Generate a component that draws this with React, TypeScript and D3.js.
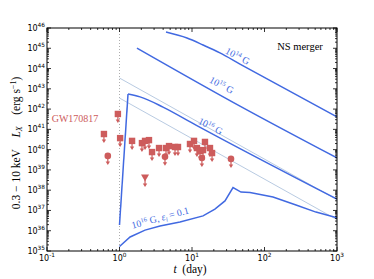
import React from "react";
import * as d3 from "d3";

const W = 374;
const H = 279;
const PL = 47, PR = 337, PT = 28, PB = 251;

const xMajor = [0.1, 1, 10, 100, 1000];
const xMajorExp = ["-1", "0", "1", "2", "3"];
const yMajorExp = [35, 36, 37, 38, 39, 40, 41, 42, 43, 44, 45, 46];

// magnetar models (t in days, L in erg/s)
const b14T = [4.38, 8.53, 14.2, 24.3, 45.9, 1000];
const b14L = [6.3e45, 3.2e45, 1.45e45, 5.9e44, 1.66e44, 4.1e41];
const b15T = [1.74, 45.9, 1000];
const b15L = [1.02e45, 1.4e42, 3.9e39];
const b16RiseT = [1.0, 1.31];
const b16RiseL = [1.9e36, 5.5e42];
const b16T = [1.31, 1.92, 3.98, 11.35, 1000];
const b16L = [5.5e42, 4.0e42, 1.26e42, 1.62e41, 3.6e37];
const epsT = [1, 1.4, 2.25, 3.62, 6.83, 14.2, 20.7, 28.5, 36.8, 47.4, 63.1, 131, 272, 513, 1000];
const epsL = [1.66e35, 4.9e35, 1.07e36, 1.7e36, 2.7e36, 5.4e36, 1.17e37, 2.95e37, 1.35e38, 8.1e37, 7.6e37, 4.6e37, 1.86e37, 8.3e36, 4.3e36];
const thinT = [1, 1000];
const thinUpperL = [3.4e43, 3.4e37];
const thinLowerL = [3.5e42, 3.5e36];

// GW170817 X-ray upper limits
const sqT = [0.61, 0.95, 1.02, 1.49, 2.04, 2.25, 2.55, 2.81, 3.51, 4.38, 4.82, 5.83, 6.41, 9.38, 10.66, 11.7, 12.9, 14.2, 15.1, 17.7, 18.9];
const sqL = [5.9e40, 5.75e41, 3.7e40, 2.7e40, 2.1e40, 2.7e40, 2.95e40, 7.6e39, 1.2e40, 1.2e40, 1.5e40, 1.35e40, 1.35e40, 1.9e40, 2.7e40, 1.2e40, 8.5e39, 9.5e39, 2.4e40, 1.2e40, 6.8e39];
const circT = [0.69, 4.24, 13.7, 34.5];
const circL = [4.9e39, 4.4e39, 3.9e39, 3.5e39];
const triT = [2.25];
const triL = [4.0e38];

const BLUE = "#4169e1";
const LIGHT = "#b0c4de";
const RED = "#cd5c5c";
const SERIF = "'Liberation Serif', 'DejaVu Serif', serif";
const SANS = "'DejaVu Sans', sans-serif";

export default function App() {
  const x = d3.scaleLog().domain([0.1, 1000]).range([PL, PR]);
  const y = d3.scaleLog().domain([1e35, 1e46]).range([PB, PT]);

  const mk = (ts: number[], ls: number[], curve: any) =>
    d3
      .line<number>()
      .x((_, i) => x(ts[i]))
      .y((_, i) => y(ls[i]))
      .curve(curve)(ts.map((_, i) => i)) || "";

  const xMinor: number[] = [];
  for (let e = -1; e < 3; e++) for (let k = 2; k <= 9; k++) xMinor.push(k * Math.pow(10, e));
  const yMinor: number[] = [];
  for (let e = 35; e < 46; e++) for (let k = 2; k <= 9; k++) yMinor.push(k * Math.pow(10, e));

  const arrow = (cx: number, cy: number, key: string) => (
    <g key={key}>
      <line x1={cx} y1={cy} x2={cx} y2={cy + 7} stroke={RED} strokeWidth={1.2} />
      <path d={`M${cx - 2.2},${cy + 5.5} L${cx + 2.2},${cy + 5.5} L${cx},${cy + 9} Z`} fill={RED} />
    </g>
  );

  return (
    <svg width={W} height={H} style={{ position: "absolute", left: 0, top: 0, background: "#fff" }}>
      <defs>
        <clipPath id="plotclip">
          <rect x={PL} y={PT} width={PR - PL} height={PB - PT} />
        </clipPath>
      </defs>
      <rect width={W} height={H} fill="#fff" />

      {/* dotted line at t=1 */}
      <line x1={x(1)} x2={x(1)} y1={PT} y2={PB} stroke="#999" strokeWidth={0.8} strokeDasharray="1,2" />

      <g clipPath="url(#plotclip)" fill="none">
        <path d={mk(thinT, thinUpperL, d3.curveLinear)} stroke={LIGHT} strokeWidth={0.9} />
        <path d={mk(thinT, thinLowerL, d3.curveLinear)} stroke={LIGHT} strokeWidth={0.9} />
        <path d={mk(b14T, b14L, d3.curveMonotoneX)} stroke={BLUE} strokeWidth={1.5} />
        <path d={mk(b15T, b15L, d3.curveMonotoneX)} stroke={BLUE} strokeWidth={1.5} />
        <path d={mk(b16RiseT, b16RiseL, d3.curveLinear)} stroke={BLUE} strokeWidth={1.5} />
        <path d={mk(b16T, b16L, d3.curveMonotoneX)} stroke={BLUE} strokeWidth={1.5} />
        <path d={mk(epsT, epsL, d3.curveLinear)} stroke={BLUE} strokeWidth={1.5} />
      </g>

      {/* data */}
      <g>
        {sqT.map((t, i) => {
          const cx = x(t), cy = y(sqL[i]);
          return (
            <g key={"s" + i}>
              {arrow(cx, cy, "sa" + i)}
              <rect x={cx - 3.2} y={cy - 3.2} width={6.4} height={6.4} fill={RED} />
            </g>
          );
        })}
        {circT.map((t, i) => {
          const cx = x(t), cy = y(circL[i]);
          return (
            <g key={"c" + i}>
              {arrow(cx, cy, "ca" + i)}
              <circle cx={cx} cy={cy} r={3.3} fill={RED} />
            </g>
          );
        })}
        {triT.map((t, i) => {
          const cx = x(t), cy = y(triL[i]);
          return (
            <g key={"t" + i}>
              {arrow(cx, cy, "ta" + i)}
              <path d={`M${cx - 4},${cy - 3.5} L${cx + 4},${cy - 3.5} L${cx},${cy + 3.5} Z`} fill={RED} />
            </g>
          );
        })}
      </g>

      {/* frame */}
      <rect x={PL} y={PT} width={PR - PL} height={PB - PT} fill="none" stroke="#000" strokeWidth={1} />

      {/* ticks */}
      <g stroke="#000" strokeWidth={0.8}>
        {xMajor.map((t, i) => (
          <g key={"xm" + i}>
            <line x1={x(t)} x2={x(t)} y1={PB} y2={PB - 4} />
            <line x1={x(t)} x2={x(t)} y1={PT} y2={PT + 4} />
          </g>
        ))}
        {xMinor.map((t, i) => (
          <g key={"xn" + i}>
            <line x1={x(t)} x2={x(t)} y1={PB} y2={PB - 2} />
            <line x1={x(t)} x2={x(t)} y1={PT} y2={PT + 2} />
          </g>
        ))}
        {yMajorExp.map((e, i) => (
          <g key={"ym" + i}>
            <line x1={PL} x2={PL + 4} y1={y(Math.pow(10, e))} y2={y(Math.pow(10, e))} />
            <line x1={PR} x2={PR - 4} y1={y(Math.pow(10, e))} y2={y(Math.pow(10, e))} />
          </g>
        ))}
        {yMinor.map((v, i) => (
          <g key={"yn" + i}>
            <line x1={PL} x2={PL + 2} y1={y(v)} y2={y(v)} />
            <line x1={PR} x2={PR - 2} y1={y(v)} y2={y(v)} />
          </g>
        ))}
      </g>

      {/* tick labels */}
      <g fontFamily={SANS} fill="#000">
        {xMajor.map((t, i) => (
          <text key={"xl" + i} x={x(t)} y={261} textAnchor="middle" fontSize={8}>
            <tspan>10</tspan>
            <tspan dy={-4} fontSize={5.8}>{xMajorExp[i]}</tspan>
          </text>
        ))}
        {yMajorExp.map((e, i) => (
          <text key={"yl" + i} x={45} y={y(Math.pow(10, e)) + 3} textAnchor="end" fontSize={8}>
            <tspan>10</tspan>
            <tspan dy={-4} fontSize={5.8}>{e}</tspan>
          </text>
        ))}
      </g>

      {/* axis labels */}
      <text x={190} y={273} textAnchor="middle" fontFamily={SERIF} fontSize={11.5}>
        <tspan fontStyle="italic">t</tspan>
        <tspan>{"\u2002(day)"}</tspan>
      </text>
      <text transform="translate(20,143) rotate(-90)" textAnchor="middle" fontFamily={SERIF} fontSize={11.5}>
        <tspan>{"0.3 \u2212 10 keV\u2002\u2002"}</tspan>
        <tspan fontStyle="italic">L</tspan>
        <tspan dy={2} fontSize={8} fontStyle="italic">X</tspan>
        <tspan dy={-2}>{"\u2002\u2002(erg s"}</tspan>
        <tspan dy={-4} fontSize={8}>{"\u22121"}</tspan>
        <tspan dy={4}>)</tspan>
      </text>

      {/* annotations */}
      <text x={300} y={50} textAnchor="middle" fontFamily={SERIF} fontSize={10.5}>NS merger</text>
      <text x={75} y={122} textAnchor="middle" fontFamily={SERIF} fontSize={10} fill={RED}>GW170817</text>

      <g fontFamily={SERIF} fill={BLUE} fontSize={9.8}>
        <text transform="translate(236,59) rotate(28)" textAnchor="middle">
          <tspan>10</tspan><tspan dy={-3.5} fontSize={6.5}>14</tspan><tspan dy={3.5}>{" G"}</tspan>
        </text>
        <text transform="translate(220,88) rotate(28)" textAnchor="middle">
          <tspan>10</tspan><tspan dy={-3.5} fontSize={6.5}>15</tspan><tspan dy={3.5}>{" G"}</tspan>
        </text>
        <text transform="translate(209,129) rotate(27)" textAnchor="middle">
          <tspan>10</tspan><tspan dy={-3.5} fontSize={6.5}>16</tspan><tspan dy={3.5}>{" G"}</tspan>
        </text>
        <text transform="translate(161,221) rotate(-15)" textAnchor="middle">
          <tspan>10</tspan><tspan dy={-3.5} fontSize={6.5}>16</tspan><tspan dy={3.5}>{" G,  "}</tspan>
          <tspan fontStyle="italic">ε</tspan><tspan dy={2} fontSize={6.5} fontStyle="italic">i</tspan>
          <tspan dy={-2}>{" = 0.1"}</tspan>
        </text>
      </g>
    </svg>
  );
}
